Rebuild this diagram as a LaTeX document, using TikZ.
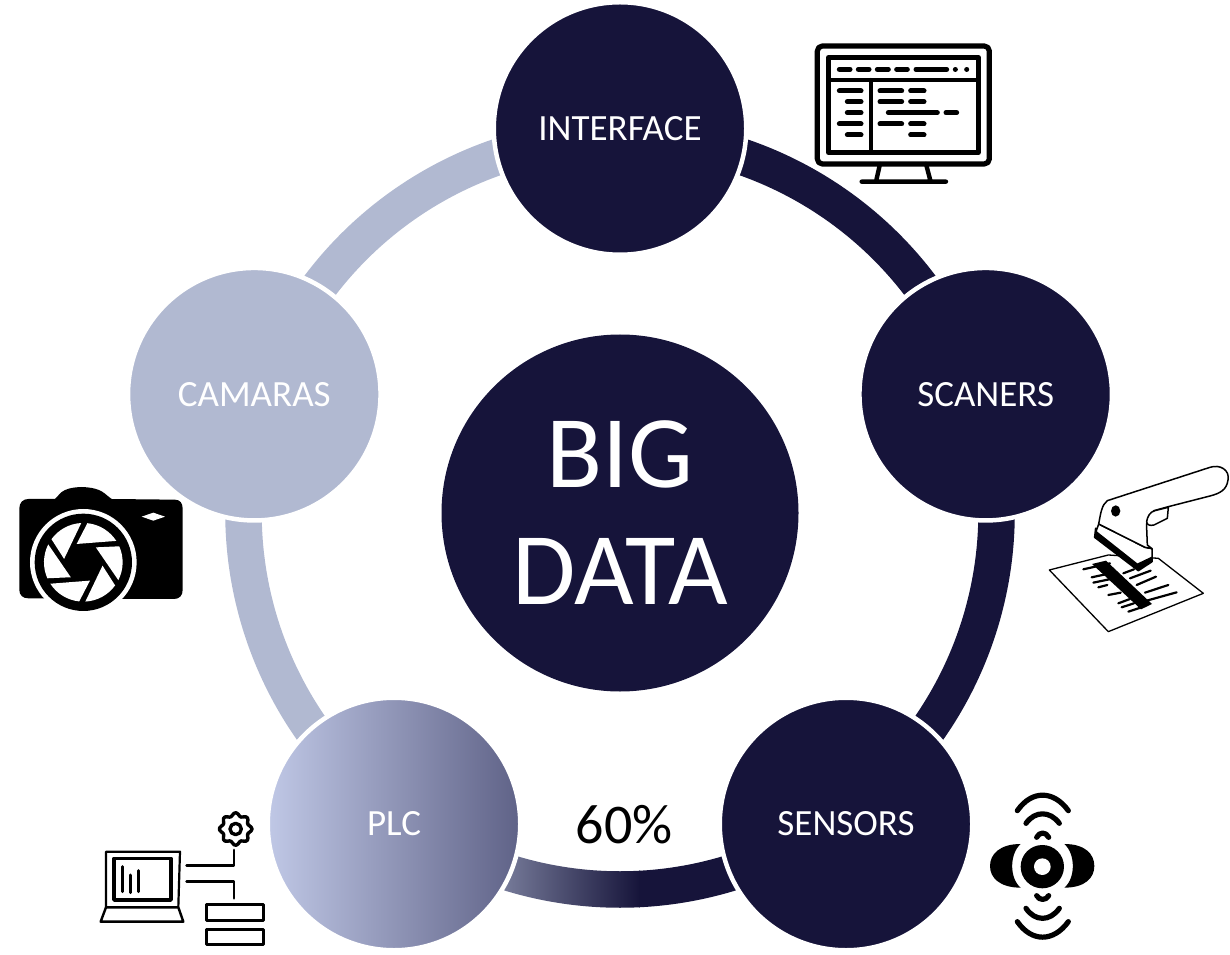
\documentclass[tikz,border=0pt]{standalone}
\usepackage{fontspec}
\setmainfont{Carlito}
\usetikzlibrary{calc}
\pgfdeclarelayer{bg}
\pgfsetlayers{bg,main}
\definecolor{navy}{RGB}{22,20,58}
\definecolor{haze}{RGB}{177,185,209}
\definecolor{plcl}{RGB}{192,200,230}
\definecolor{plcr}{RGB}{95,98,135}
\definecolor{bandl}{RGB}{124,129,159}
\tikzset{
  cyc/.style={circle,inner sep=0pt,outer sep=0pt,minimum size=252.5pt,draw=white,line width=4.5pt,text=white,font=\fontsize{37}{44}\selectfont},
  band/.style={line width=36.5pt,line cap=butt},
  zoomed/.style={x=0.3333pt,y=-0.3333pt},
  ink/.style={line width=#1,line cap=round,line join=round,black},
  ink/.default=1.4pt
}
\begin{document}
\begin{tikzpicture}[x=1pt,y=1pt]
\useasboundingbox (0,0) rectangle (1230,954);
\node[circle,fill=navy,inner sep=0pt,minimum size=357pt,text=white,align=center,font=\fontsize{103}{117}\selectfont] (hub) at (620,441) {BIG\\DATA};
\node[cyc,fill=navy] (iface) at (620,825.5) {INTERFACE};
\node[cyc,fill=navy] (scan) at (985.7,559.8) {SCANERS};
\node[cyc,fill=navy] (sens) at (846,130) {SENSORS};
\node[cyc,left color=plcl,right color=plcr] (plc) at (394,130) {PLC};
\node[cyc,fill=haze] (cam) at (254.3,559.8) {CAMARAS};
\node[text=black,inner sep=0pt,font=\fontsize{56}{60}\selectfont] (pct) at (624,129) {60\%};
\begin{pgfonlayer}{bg}
\draw[band,navy] ($(iface)!8pt!(hub)$) arc[start angle=90,end angle=18,radius=376.5pt];
\draw[band,navy] ($(scan)!8pt!(hub)$) arc[start angle=18,end angle=-54,radius=376.5pt];
\draw[band,haze] ($(cam)!8pt!(hub)$) arc[start angle=162,end angle=90,radius=376.5pt];
\draw[band,haze] ($(plc)!8pt!(hub)$) arc[start angle=234,end angle=162,radius=376.5pt];
\begin{scope}
\clip ($(hub)+(234:394.75)$) arc[start angle=234,end angle=306,radius=394.75pt]
  -- ($(hub)+(306:358.25)$) arc[start angle=306,end angle=234,radius=358.25pt] -- cycle;
\shade[left color=bandl,right color=navy] (495,30) rectangle (640,125);
\fill[navy] (639,30) rectangle (860,125);
\end{scope}
\end{pgfonlayer}

% monitor
\begin{scope}[shift={(800pt,924pt)},zoomed]
\draw[ink=5.2pt,rounded corners=5pt] (52,48) rectangle (568,402);
\draw[ink=4.4pt,line cap=butt] (85,82) rectangle (535,368);
\draw[ink=4.2pt] (85,150) -- (535,150) (212,150) -- (212,368);
\draw[ink=4.4pt] (240,402) -- (228,455) (378,402) -- (392,455) (185,455) -- (438,455);
\draw[ink=5pt]
 (118,118)--(150,118) (175,118)--(207,118) (232,118)--(265,118) (290,118)--(322,118) (348,118)--(440,118)
 (466,118)--(466.1,118) (500,118)--(500.1,118)
 (118,183)--(183,183) (142,215)--(183,215) (142,248)--(183,248) (118,282)--(183,282) (142,315)--(183,315)
 (240,183)--(305,183) (332,183)--(372,183) (240,215)--(305,215) (332,215)--(372,215)
 (265,248)--(412,248) (438,248)--(470,248) (240,282)--(305,282) (332,282)--(372,282) (332,315)--(372,315);
\end{scope}

% scanner
\begin{scope}[shift={(1030pt,504pt)},zoomed]
\draw[ink=1.3pt,fill=white] (58,360) -- (235,315) -- (385,325) -- (520,430) -- (235,545) -- cycle;
\fill[black] (186,342) -- (228,332) -- (366,462) -- (333,478) -- cycle;
\draw[ink=2.2pt] (160,358)--(240,340) (185,382)--(250,368) (190,398)--(262,383) (205,412)--(232,405)
 (235,435)--(272,428) (265,460)--(300,447) (275,472)--(312,460) (295,485)--(340,470)
 (350,452)--(440,427) (345,428)--(415,405) (320,405)--(378,380) (300,385)--(362,362) (280,370)--(312,358);
\draw[ink=1.6pt,fill=black] (197,235) -- (194,262) -- (325,362) -- (366,335) -- (366,300) -- cycle;
\draw[ink=1.5pt,fill=white] (206,222) -- (198,245) -- (322,343) -- (366,322) -- (366,296) -- (345,292) -- cycle;
\draw[ink=1.5pt,fill=white] (206,222) .. controls (212,190) and (215,165) .. (232,152)
 -- (540,52) .. controls (570,42) and (600,60) .. (594,90) .. controls (590,120) and (570,130) .. (540,138)
 -- (415,170) -- (372,182) .. controls (355,195) and (348,215) .. (350,235) -- (352,285) -- (366,296) -- (345,292) -- cycle;
\draw[ink=1.5pt,fill=white] (415,172) -- (412,205) -- (372,225) .. controls (360,228) and (350,225) .. (350,215) .. controls (352,200) and (360,185) .. (375,182) -- cycle;
\fill[black] (257,183) ellipse [x radius=14,y radius=17];
\end{scope}

% sensor
\begin{scope}[shift={(970pt,174pt)},zoomed]
\fill[black] (217,260) circle [radius=65];
\fill[white] (217,260) circle [radius=25];
\fill[black] (152,192) .. controls (90,192) and (60,222) .. (60,258) .. controls (60,294) and (90,323) .. (152,323) .. controls (118,295) and (118,222) .. (152,192) -- cycle;
\fill[black] (283,192) .. controls (345,192) and (373,222) .. (373,258) .. controls (373,294) and (345,323) .. (283,323) .. controls (317,295) and (317,222) .. (283,192) -- cycle;
\draw[ink=5.2pt] (142,92) .. controls (185,30) and (250,30) .. (295,92);
\draw[ink=5.2pt] (168,130) .. controls (195,92) and (240,92) .. (268,130);
\draw[ink=5.2pt] (200,172) .. controls (208,155) and (228,155) .. (236,172);
\draw[ink=5.2pt] (142,425) .. controls (185,487) and (250,487) .. (295,425);
\draw[ink=5.2pt] (168,385) .. controls (195,425) and (240,425) .. (268,385);
\draw[ink=5.2pt] (200,347) .. controls (208,362) and (228,362) .. (236,347);
\end{scope}

% plc icon
\begin{scope}[shift={(90pt,154pt)},zoomed]
\draw[ink=2.2pt] (48,320) -- (48,155) -- (270,155) -- (265,320);
\draw[ink=3.6pt] (72,175) rectangle (243,300);
\draw[ink=2.4pt] (48,322) -- (32,365) -- (280,365) -- (265,322) -- cycle;
\draw[ink=3pt] (97,200)--(97,275) (122,225)--(122,278) (147,212)--(147,275);
\draw[ink=2.8pt] (290,197) -- (432,197) -- (432,150);
\draw[ink=2.8pt] (290,245) -- (432,245) -- (432,295);
\draw[ink=3pt] (350,315) rectangle (522,362);
\draw[ink=3pt] (350,388) rectangle (522,435);
\draw[ink=3.4pt] plot[smooth cycle,samples=49,domain=0:352.5,variable=\t] ({437+(44+5*cos(8*\t))*cos(\t)},{87+(44+5*cos(8*\t))*sin(\t)});
\draw[ink=3.4pt] (437,87) circle [radius=17];
\end{scope}

% camera
\begin{scope}[shift={(10pt,479pt)},zoomed]
\fill[black] (28,100) .. controls (28,82) and (40,72) .. (55,72) -- (135,72)
 .. controls (150,60) and (150,38) .. (215,36) .. controls (280,38) and (285,60) .. (305,72) -- (495,74)
 .. controls (510,74) and (518,85) .. (518,100) -- (518,345) .. controls (518,362) and (508,372) .. (492,372)
 -- (55,370) .. controls (38,370) and (28,360) .. (28,345) -- cycle;
\fill[white] (220,262) circle [radius=160];
\fill[black] (220,262) circle [radius=146];
\fill[white] (395,125) -- (430,113) -- (465,125) -- (430,137) -- cycle;
\end{scope}
\begin{scope}[shift={(83.3pt,391.7pt)},x=0.3333pt,y=0.3333pt]
\foreach \a in {0,60,...,300}
  \fill[white,rotate=\a] (-20,55) -- (33:118) arc[start angle=33,end angle=84,radius=39.33pt] -- cycle;
\end{scope}
\end{tikzpicture}
\end{document}
